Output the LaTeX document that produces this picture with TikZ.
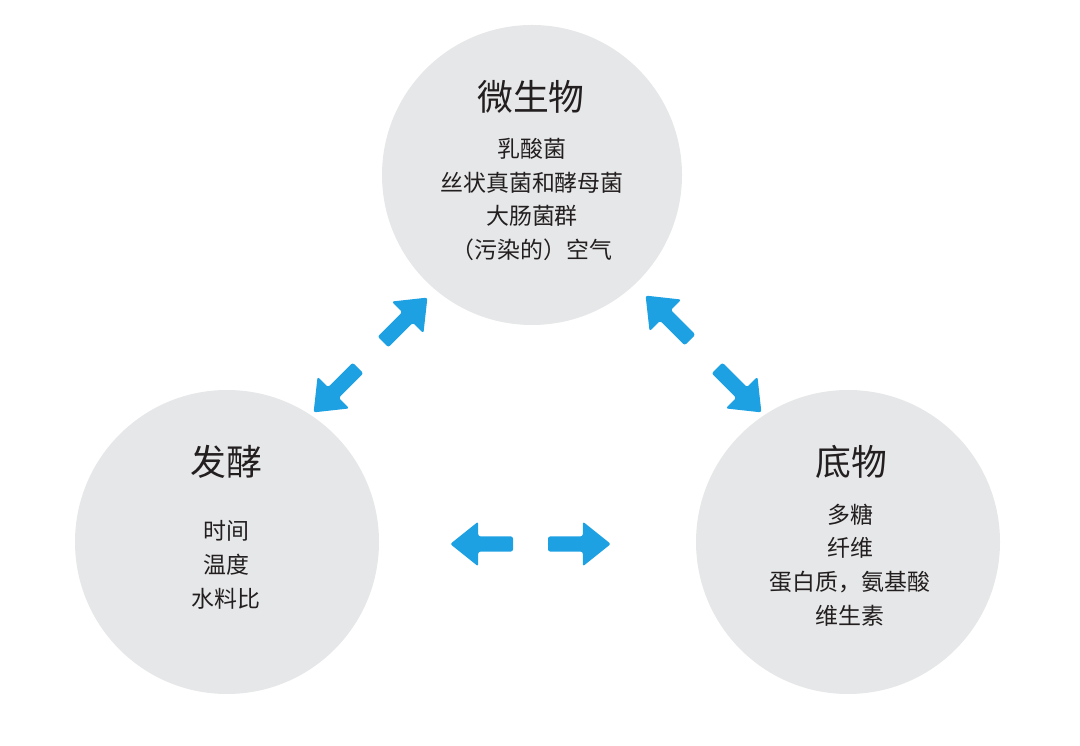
\documentclass[tikz,border=0pt]{standalone}
\usepackage{fontspec}
\newfontfamily\cjk{Noto Sans CJK SC}
\usepackage{tikz}
\usetikzlibrary{calc}
\definecolor{circlegray}{HTML}{E6E7E8}
\definecolor{arrowblue}{HTML}{1DA1E3}
\definecolor{textdark}{HTML}{231F20}
\tikzset{
  blockarrow/.pic={
    \fill[arrowblue, rounded corners=1.6pt] (0,-0.19) -- (0.87,-0.19) -- (0.87,-0.56) -- (1.57,0) -- (0.87,0.56) -- (0.87,0.19) -- (0,0.19) -- cycle;
  }
}

\begin{document}
\begin{tikzpicture}[every node/.style={align=center, text=textdark, font=\cjk},
  topic/.style={circle, fill=circlegray, inner sep=0pt},
  heading/.style={font=\cjk\fontsize{25.5pt}{30pt}\selectfont},
  items/.style={font=\cjk\fontsize{16.3pt}{24pt}\selectfont}]
  \useasboundingbox (0,0) rectangle (27,18.625);
  % three topics
  \node[topic, minimum size=7.5cm] (micro) at (13.3,14.25) {};
  \node[topic, minimum size=7.6cm] (ferm) at (5.675,5.075) {};
  \node[topic, minimum size=7.6cm] (subs) at (21.2,5.075) {};
  \node[heading] (microtitle) at (13.275,16.2) {微生物};
  \node[items] (microitems) at (13.3,13.64) {乳酸菌\\丝状真菌和酵母菌\\大肠菌群\\（污染的）空气};
  \node[heading] (fermtitle) at (5.65,7.075) {发酵};
  \node[items] (fermitems) at (5.65,4.5) {时间\\温度\\水料比};
  \node[heading] (substitle) at (21.275,7.075) {底物};
  \node[items] (subsitems) at (21.25,4.5) {多糖\\纤维\\蛋白质，氨基酸\\维生素};
  % arrows between topics
  \coordinate (mf1) at (9.575,10.075);
  \coordinate (mf2) at (8.95,9.425);
  \coordinate (ms1) at (17.25,10.125);
  \coordinate (ms2) at (17.925,9.425);
  \coordinate (fs1) at (12.825,5.025);
  \coordinate (fs2) at (13.7,5.025);
  \pic[rotate=45] at (mf1) {blockarrow};
  \pic[rotate=225] at (mf2) {blockarrow};
  \pic[rotate=135] at (ms1) {blockarrow};
  \pic[rotate=-45] at (ms2) {blockarrow};
  \pic[rotate=180] at (fs1) {blockarrow};
  \pic at (fs2) {blockarrow};
\end{tikzpicture}
\end{document}
